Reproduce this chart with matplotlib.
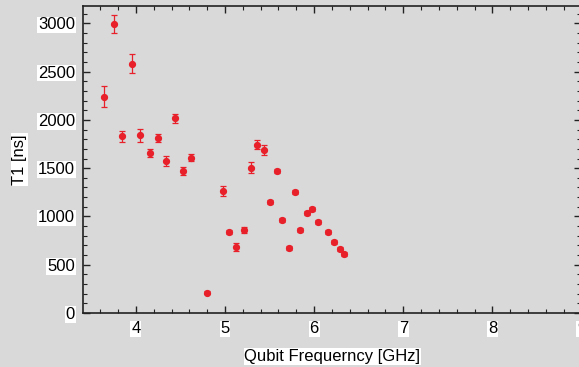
import numpy as np
import matplotlib.pyplot as plt
from matplotlib.ticker import MultipleLocator

# qubit T1 vs frequency
freq_ghz = [3.644, 3.750, 3.952, 3.843, 4.048, 4.154, 4.253, 4.342, 4.434, 4.530,
            4.623, 4.797, 4.973, 5.047, 5.122, 5.209, 5.287, 5.356, 5.434, 5.504,
            5.579, 5.639, 5.717, 5.785, 5.841, 5.916, 5.975, 6.043, 6.158, 6.219,
            6.286, 6.331]
t1_ns = [2239, 2991, 2584, 1832, 1842, 1659, 1814, 1573, 2018, 1470,
         1607, 210, 1266, 838, 683, 856, 1506, 1744, 1690, 1146,
         1470, 963, 670, 1249, 856, 1038, 1080, 942, 838, 735,
         666, 607]
t1_err = [110, 95, 100, 57, 69, 40, 45, 55, 48, 45,
          35, 15, 50, 20, 45, 30, 60, 50, 50, 20,
          20, 20, 20, 20, 20, 20, 20, 20, 20, 20,
          20, 20]

bg = "#d9d9d9"
red = "#e8202a"
label_box = dict(facecolor="white", edgecolor="none", pad=0.6)

plt.rcParams.update({
    "font.family": ["Liberation Sans", "DejaVu Sans"],
    "font.size": 12,
})

fig = plt.figure(figsize=(5.79, 3.67), dpi=100, facecolor=bg)
ax = fig.add_axes([83.3 / 579, 1 - 313 / 367, (581.5 - 83.3) / 579, (313 - 6) / 367])
ax.set_facecolor(bg)

ax.errorbar(freq_ghz, t1_ns, yerr=t1_err, fmt="o", color=red, ms=4.2,
            mec=red, mfc=red, elinewidth=0.9, capsize=2.2, capthick=0.9)

ax.set_xlim(3.41, 9.0)
ax.set_ylim(0, 3180)
ax.xaxis.set_major_locator(MultipleLocator(1))
ax.xaxis.set_minor_locator(MultipleLocator(0.2))
ax.yaxis.set_major_locator(MultipleLocator(500))
ax.yaxis.set_minor_locator(MultipleLocator(100))
ax.tick_params(which="both", direction="in", top=True, right=True, color="#222222")
ax.tick_params(which="major", length=5, width=1, pad=6)
ax.tick_params(which="minor", length=3, width=0.8)
for spine in ax.spines.values():
    spine.set_linewidth(1.2)
    spine.set_color("#222222")

for lab in ax.get_xticklabels() + ax.get_yticklabels():
    lab.set_bbox(label_box)

ax.set_xlabel("Qubit Frequerncy [GHz]", labelpad=9, bbox=label_box)
ax.set_ylabel("T1 [ns]", labelpad=8, bbox=label_box)

plt.savefig("out.png", dpi=100, facecolor=bg)
